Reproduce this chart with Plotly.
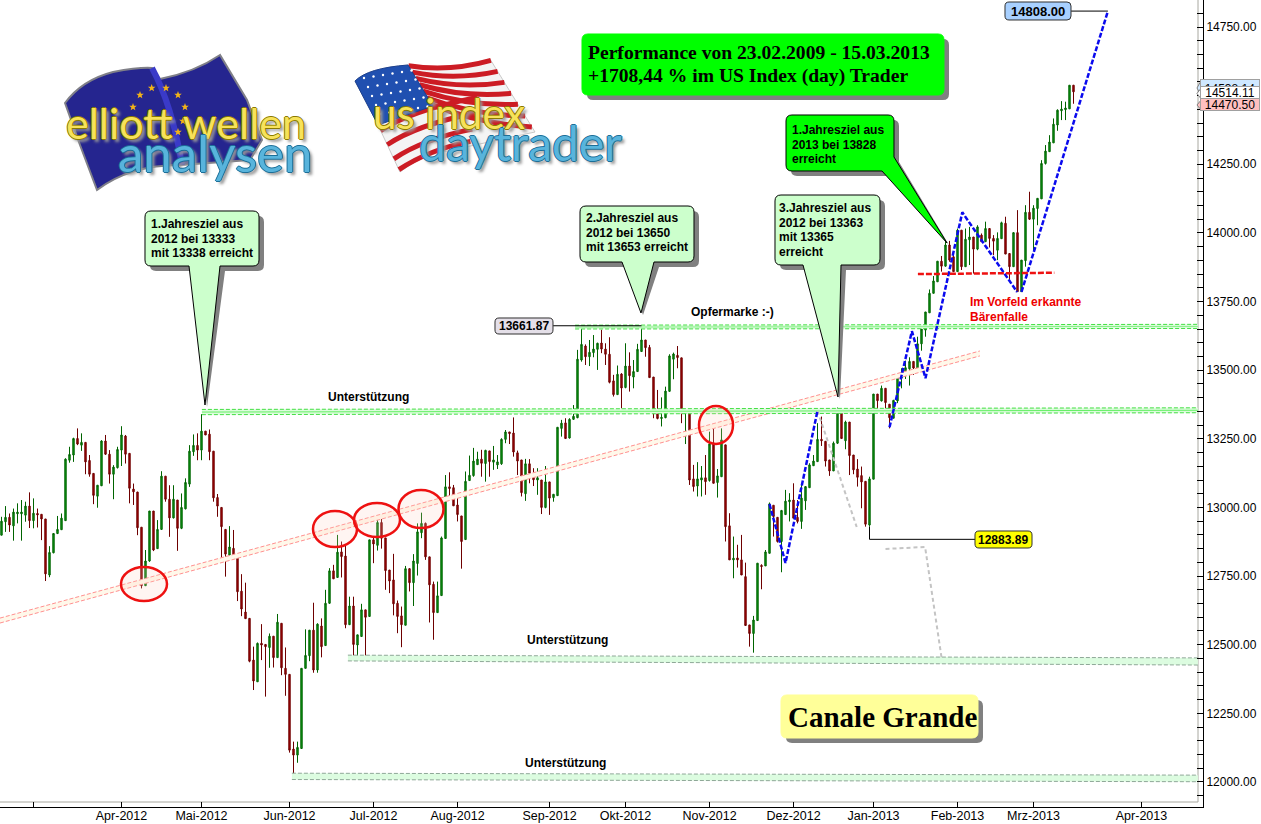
import math
import plotly.graph_objects as go

opens = [12899,12948,12964,12933,12977,12977,12972,13005,12952,12978,
12975,12958,12754,12835,12905,12919,12952,13172,13191,13251,
13227,13237,13171,13124,13041,13079,13242,13194,13121,13145,
13209,13260,13197,13067,13056,12928,12715,12805,12987,12850,
12920,13114,13030,12962,13027,12924,12995,13085,13203,13226,
13209,13278,13267,13205,13036,13000,12920,12826,12851,12818,
12695,12619,12596,12444,12365,12505,12501,12490,12531,12453,
12578,12414,12392,12120,12098,12122,12414,12460,12553,12408,
12568,12497,12651,12769,12745,12838,12823,12573,12641,12499,
12530,12627,12603,12882,12862,12945,12889,12772,12736,12651,
12605,12571,12777,12726,12796,12908,12942,12820,12720,12617,
12679,12887,13075,13072,13009,12969,12883,13098,13116,13156,
13176,13160,13206,13165,13155,13159,13248,13275,13271,13199,
13173,13050,13159,13122,13100,13100,13000,13093,13036,13043,
13288,13308,13253,13321,13327,13537,13588,13549,13564,13576,
13599,13577,13558,13461,13411,13486,13437,13515,13475,13495,
13568,13610,13583,13475,13348,13324,13327,13423,13540,13554,
13545,13342,13343,13104,13078,13100,13108,13098,13234,13091,
13112,13228,12933,12809,12816,12809,12748,12572,12541,12588,
12789,12787,12833,13008,12964,12876,12974,13021,13027,12964,
12949,13024,13072,13152,13167,13248,13241,13173,13133,13234,
13353,13243,13311,13191,13140,13116,13095,12936,13103,13413,
13388,13434,13376,13325,13388,13471,13486,13505,13532,13508,
13596,13646,13709,13780,13822,13897,13879,13956,13913,13859,
14010,13877,13975,13985,13941,13992,13968,14016,13980,13937,
13979,14035,13925,13877,14001,13786,13899,14075,14050,14089,
14124,14253,14296,14328,14393,14445,14449,14452,14538]

highs = [12966,13005,12978,12996,13015,13027,13021,13055,13033,12996,
12975,12958,12859,12905,12969,12978,13179,13221,13254,13288,
13270,13237,13191,13124,13081,13245,13264,13209,13154,13221,
13296,13264,13197,13087,13057,12928,12845,12987,12987,12954,
13132,13114,13081,13081,13027,13051,13106,13227,13266,13270,
13340,13278,13284,13205,13049,13000,12920,12932,12918,12818,
12757,12726,12596,12493,12508,12575,12501,12541,12531,12612,
12578,12490,12392,12147,12147,12414,12556,12553,12653,12578,
12596,12700,12779,12791,12900,12876,12860,12675,12675,12536,
12649,12627,12882,12894,12964,12961,12889,12772,12831,12661,
12639,12787,12779,12830,12942,12981,12945,12820,12730,12730,
12894,13118,13128,13082,13040,12969,13131,13189,13217,13203,
13210,13210,13206,13224,13191,13252,13282,13275,13328,13207,
13173,13177,13176,13143,13143,13100,13151,13093,13048,13292,
13319,13325,13325,13373,13574,13650,13594,13610,13628,13600,
13647,13598,13620,13483,13517,13489,13598,13565,13537,13596,
13662,13610,13592,13475,13428,13401,13440,13558,13564,13588,
13545,13347,13343,13155,13165,13151,13191,13276,13288,13140,
13288,13228,12979,12894,12864,12900,12799,12572,12605,12797,
12793,12845,13018,13008,12964,12991,13064,13052,13088,13027,
13088,13076,13161,13191,13307,13331,13241,13173,13240,13364,
13355,13316,13311,13191,13176,13149,13095,13112,13413,13413,
13444,13434,13376,13392,13479,13507,13535,13547,13532,13622,
13650,13712,13794,13843,13897,13916,13971,13971,13931,14016,
14010,14016,14022,13985,14028,13998,14041,14016,13992,14002,
14041,14059,13925,14003,14083,13901,14101,14150,14101,14126,
14265,14320,14356,14417,14450,14480,14478,14538,14539]

lows = [12899,12911,12911,12879,12942,12879,12948,12925,12924,12927,
12881,12732,12746,12833,12903,12918,12952,13163,13166,13227,
13206,13121,13112,13012,12999,13078,13191,13087,13030,13142,
13151,13160,13015,13009,12899,12705,12715,12802,12841,12850,
12918,13021,12893,12960,12842,12921,12993,13075,13188,13172,
13172,13264,13172,13021,12966,12808,12748,12814,12814,12659,
12604,12595,12436,12335,12365,12444,12311,12416,12417,12453,
12389,12314,12107,12031,12070,12122,12414,12440,12398,12398,
12454,12497,12649,12740,12745,12745,12560,12572,12457,12451,
12530,12451,12603,12797,12843,12850,12700,12688,12607,12542,
12491,12571,12694,12641,12752,12888,12809,12581,12518,12617,
12679,12887,13027,13006,12949,12777,12883,13098,13112,13156,
13112,13094,13112,13137,13140,13155,13234,13231,13185,13118,
13040,13024,13088,13078,13046,12976,12997,12973,13021,13043,
13258,13251,13251,13319,13325,13531,13519,13515,13547,13501,
13562,13519,13452,13404,13410,13361,13434,13422,13434,13495,
13568,13549,13473,13325,13321,13295,13325,13421,13467,13507,
13307,13231,13082,13058,13040,13040,13046,13094,13088,13036,
13112,12876,12809,12742,12781,12754,12570,12493,12471,12588,
12702,12787,12833,12894,12872,12764,12974,12949,12961,12942,
12922,12991,13072,13152,13167,13224,13149,13115,13133,13231,
13251,13212,13118,13121,13076,12997,12930,12930,13103,13355,
13386,13343,13288,13325,13380,13434,13468,13444,13483,13507,
13571,13622,13709,13780,13822,13859,13877,13895,13859,13859,
13865,13877,13883,13852,13937,13968,13968,13947,13919,13901,
13979,13923,13828,13877,13786,13786,13877,14047,13937,14028,
14124,14249,14296,14328,14372,14411,14411,14452,14470.5]

closes = [12950,12964,12936,12983,12983,12983,13005,12952,12979,12973,
12958,12758,12836,12905,12920,12961,13176,13193,13251,13231,
13237,13166,13121,13044,13081,13242,13194,13121,13147,13211,
13264,13194,13070,13057,12926,12715,12805,12987,12845,12920,
13114,13030,12962,13030,12924,13000,13091,13205,13226,13209,
13278,13264,13203,13035,13005,12930,12830,12856,12818,12693,
12630,12595,12440,12368,12505,12499,12493,12531,12453,12582,
12416,12392,12116,12098,12126,12414,12461,12553,12408,12575,
12493,12651,12769,12740,12837,12821,12573,12641,12501,12536,
12627,12600,12882,12867,12945,12888,12770,12732,12649,12603,
12573,12777,12726,12805,12911,12942,12820,12718,12617,12678,
12889,13075,13069,13006,12974,12876,13095,13117,13169,13176,
13161,13208,13167,13173,13166,13248,13275,13269,13202,13169,
13054,13159,13125,13101,13108,13000,13093,13034,13048,13292,
13307,13251,13321,13332,13540,13594,13549,13565,13577,13598,
13577,13558,13456,13411,13485,13435,13515,13480,13495,13576,
13610,13582,13473,13343,13324,13328,13424,13552,13559,13546,
13343,13347,13100,13076,13104,13108,13094,13231,13088,13115,
13246,12930,12809,12815,12809,12754,12570,12541,12590,12797,
12785,12838,13013,12967,12876,12989,13023,13027,12961,12949,
13034,13076,13155,13169,13248,13243,13169,13133,13234,13353,
13251,13311,13189,13137,13110,13093,12939,13104,13413,13389,
13434,13382,13327,13390,13474,13489,13509,13532,13508,13596,
13650,13712,13780,13825,13897,13879,13956,13901,13859,14010,
13877,13977,13985,13941,14022,13968,14016,13980,13970,13980,
14037,13923,13877,14001,13786,13901,14075,14050,14090,14126,
14253,14298,14331,14396,14447,14451,14455,14538,14514]

# month ticks: bar number where each month starts, and its label
month_bars = [8, 30, 50, 72, 93, 114, 137, 156, 177, 198, 218, 239, 258, 285]
month_labels = ["", "Apr-2012", "Mai-2012", "Jun-2012", "Jul-2012", "Aug-2012", "Sep-2012",
                "Okt-2012", "Nov-2012", "Dez-2012", "Jan-2013", "Feb-2013", "Mrz-2013", "Apr-2013"]

# drawn levels: (bar, price) pairs
support_mid_bars = [50.1, 299.1]
support_mid_top = [13357, 13363]
support_mid_low = [13338, 13345]
opfer_bars = [143.4, 299.1]
opfer_top = [13664, 13667]
opfer_low = [13650, 13652]
support_low_bars = [86.6, 299.1]
support_low_top = [12462, 12452]
support_low_low = [12441, 12426]
support_base_bars = [72.6, 299.1]
support_base_top = [12032, 12025]
support_base_low = [12009, 12001]
trend_bars = [-0.375, 244.6]
trend_top = [12597, 13570]
trend_low = [12579, 13552]
wave1_bars = [192, 196, 204]
wave1_prices = [13012, 12798, 13352]
wave2_bars = [222, 227.6, 231, 240.2, 253.9]
wave2_prices = [13292, 13642, 13471, 14075, 13785]
wave3_bars = [255, 276.6]
wave3_prices = [13785, 14808]
ghost1_bars = [204, 213.8]
ghost1_prices = [13352, 12929]
ghost2_bars = [221, 230.9, 235.1]
ghost2_prices = [12849, 12856, 12444]
bear_bars = [229.1, 263.2]
bear_prices = [13850, 13855]
high_bars = [137.9, 160]
high_prices = [13661.87, 13661.87]
low_bars = [217, 217, 243.4]
low_prices = [12930, 12883.89, 12883.89]
target_bars = [267.4, 276.6]
target_prices = [14808, 14808]

PW, PH = 1203.0, 807.0
def X(px): return px / PW
def Y(py): return 1 - py / PH
def P(px, py): return f"{X(px):.5f},{Y(py):.5f}"

SANS = "Liberation Sans, Arial, sans-serif"
SERIF = "Liberation Serif, Times New Roman, serif"

fig = go.Figure()

def band(bars, top, low, fill, edge, centre=None):
    fig.add_trace(go.Scatter(x=bars + bars[::-1], y=top + low[::-1], mode="lines", fill="toself",
                             fillcolor=fill, line=dict(width=0), hoverinfo="skip"))
    for ys in (top, low):
        fig.add_trace(go.Scatter(x=bars, y=ys, mode="lines", hoverinfo="skip",
                                 line=dict(color=edge, width=1, dash="4px,2px")))
    if centre:
        fig.add_trace(go.Scatter(x=bars, y=[(a + b) / 2 for a, b in zip(top, low)], mode="lines",
                                 hoverinfo="skip", line=dict(color=centre, width=1)))

band(trend_bars, trend_top, trend_low, "#fff8ea", "#ff9090")
band(support_mid_bars, support_mid_top, support_mid_low, "#dcfcdc", "#44e044", "#66f066")
band(opfer_bars, opfer_top, opfer_low, "#dcfcdc", "#44e044", "#88f088")
band(support_low_bars, support_low_top, support_low_low, "#dcfce0", "#8fa898")
band(support_base_bars, support_base_top, support_base_low, "#dcfce0", "#8fa898")

fig.add_trace(go.Candlestick(x=list(range(len(opens))), open=opens, high=highs, low=lows, close=closes,
                             increasing=dict(line=dict(color="#006400", width=1), fillcolor="#0a9a14"),
                             decreasing=dict(line=dict(color="#6e0000", width=1), fillcolor="#a80000"),
                             whiskerwidth=0))

def line(bars, prices, color, width=1, dash=None):
    fig.add_trace(go.Scatter(x=bars, y=prices, mode="lines", hoverinfo="skip",
                             line=dict(color=color, width=width, dash=dash)))

for b, p in ((ghost1_bars, ghost1_prices), (ghost2_bars, ghost2_prices)):
    line(b, p, "#c4c4c4", 2, "4px,3px")
for b, p in ((wave1_bars, wave1_prices), (wave2_bars, wave2_prices), (wave3_bars, wave3_prices)):
    line(b, p, "#0a0aee", 2.5, "5px,2px")
line(bear_bars, bear_prices, "#ee1111", 2.5, "6px,2px")
for b, p in ((high_bars, high_prices), (low_bars, low_prices), (target_bars, target_prices)):
    line(b, p, "#000000", 1)

shapes = []
annotations = []

def text(s, x, y, size=12, color="#000000", bold=True, family=SANS, anchor="center", shadow=None):
    f = dict(family=family, size=size, color=color)
    if shadow:
        f["shadow"] = shadow
    if anchor == "left":
        x -= 2
    annotations.append(dict(text=f"<b>{s}</b>" if bold else s, x=X(x), y=Y(y), xref="paper", yref="paper",
                            showarrow=False, xanchor=anchor, yanchor="middle", font=f))

def path(d, fill=None, stroke=None, width=1):
    shapes.append(dict(type="path", path=d, xref="paper", yref="paper", layer="above",
                       fillcolor=fill if fill else "rgba(0,0,0,0)",
                       line=dict(color=stroke if stroke else "rgba(0,0,0,0)", width=width if stroke else 0)))

def round_box(x0, y0, x1, y1, r=6, tail=None, right_tail=None):
    d = f"M{P(x0 + r, y0)} L{P(x1 - r, y0)} Q{P(x1, y0)} {P(x1, y0 + r)} "
    if right_tail:
        a, tip, b = right_tail
        d += f"L{P(x1, a)} L{P(*tip)} L{P(b, y1)} "
    else:
        d += f"L{P(x1, y1 - r)} Q{P(x1, y1)} {P(x1 - r, y1)} "
        if tail:
            a, tip, b = tail
            d += f"L{P(b, y1)} L{P(*tip)} L{P(a, y1)} "
    d += f"L{P(x0 + r, y1)} Q{P(x0, y1)} {P(x0, y1 - r)} L{P(x0, y0 + r)} Q{P(x0, y0)} {P(x0 + r, y0)} Z"
    return d

def callout(x0, y0, x1, y1, fill, lines, tail=None, right_tail=None, tx=None, ty=None, border="#000000"):
    sh_tail = (tail[0] + 5, (tail[1][0] + 2, tail[1][1] + 2), tail[2] + 5) if tail else None
    sh_right = (right_tail[0] + 5, (right_tail[1][0] + 2, right_tail[1][1] + 2), right_tail[2] + 5) if right_tail else None
    path(round_box(x0 + 5, y0 + 5, x1 + 5, y1 + 5, tail=sh_tail, right_tail=sh_right), fill="#808080")
    path(round_box(x0, y0, x1, y1, tail=tail, right_tail=right_tail), fill=fill, stroke=border)
    for k, s in enumerate(lines):
        text(s, tx, ty + k * 14.6, anchor="left")

# ---- logos ----
eu = ("M" + P(65, 103) + " Q" + P(82, 80) + " " + P(113, 72) + " Q" + P(140, 67) + " " + P(152, 68) +
      " L" + P(160, 79) + " Q" + P(195, 72) + " " + P(220, 55) + " L" + P(247, 100) + " L" + P(262, 140) +
      " L" + P(250, 160) + " L" + P(180, 165) + " Q" + P(130, 165) + " " + P(97, 190) + " L" + P(80, 145) + " Z")
path(eu, fill="#25258f", stroke="#808088", width=2)
path("M" + P(152, 68) + " Q" + P(172, 105) + " " + P(182, 165), stroke="#3a3ac8", width=6)
def star(cx, cy, r=4):
    pts = []
    for k in range(10):
        rr = r if k % 2 == 0 else r * 0.42
        a = math.radians(-90 + 36 * k)
        pts.append(P(cx + rr * math.cos(a), cy + rr * math.sin(a)))
    path("M" + " L".join(pts) + " Z", fill="#f2b318")
for c in ((151.7, 88), (166, 88), (140, 95), (178, 95), (185, 107), (133, 107), (178, 132), (183, 121)):
    star(*c)

usbase = ("M" + P(355, 81) + " Q" + P(368, 68) + " " + P(408, 65) + " Q" + P(450, 76) + " " + P(490, 59) +
          " L" + P(535, 132) + " L" + P(452, 150) + " Q" + P(420, 155) + " " + P(400, 172) + " L" + P(378, 125) + " Z")
path(usbase, fill="#f4f4f4", stroke="#c8c8c8")
for t in (0.02, 0.17, 0.32, 0.47, 0.62, 0.78, 0.93):
    ax, ay = 408 + 24 * t, 65 + 42 * t
    bx, by = 490 + 45 * t, 59 + 73 * t
    path("M" + P(ax, ay) + " Q" + P((ax + bx) / 2, (ay + by) / 2 + 9) + " " + P(bx, by), stroke="#cc1c24", width=5)
for s in (0.12, 0.42, 0.72, 0.95):
    ax, ay = 378 + 22 * s, 125 + 47 * s
    path("M" + P(ax, ay) + " Q" + P(ax + 30, ay - 20) + " " + P(ax + 100 - 30 * s, ay - 34 + 6 * s), stroke="#cc1c24", width=5)
path("M" + P(355, 81) + " Q" + P(368, 68) + " " + P(408, 65) + " L" + P(433, 106) + " L" + P(378, 125) + " Z", fill="#2050b0", stroke="#1a3f90")
for row in range(5):
    for col in range(6):
        cx = 364 + col * 9.5 + row * 4
        cy = 78 - col * 1.5 + row * 9
        if 358 < cx < 428 and cy < 118:
            shapes.append(dict(type="circle", xref="paper", yref="paper", layer="above",
                               x0=X(cx - 1.2), x1=X(cx + 1.2), y0=Y(cy + 1.2), y1=Y(cy - 1.2),
                               fillcolor="#ffffff", line=dict(width=0)))

YEL = "-1px 0 #8a7a00, 1px 0 #8a7a00, 0 1px #8a7a00, 0 -1px #8a7a00, 3px 3px 3px #999999"
BLU = "-1px 0 #1c6f98, 1px 0 #1c6f98, 0 1px #1c6f98, 0 -1px #1c6f98, 3px 3px 3px #999999"
text("elliott wellen", 186, 123, size=43, color="#f7e25a", bold=False, family="Lato, sans-serif", shadow=YEL)
text("analysen", 215, 152, size=51, color="#58b4dc", bold=False, family="Lato, sans-serif", shadow=BLU)
text("us index", 449, 113, size=42, color="#f7e25a", bold=False, family="Lato, sans-serif", shadow=YEL)
text("daytrader", 520, 143, size=48, color="#58b4dc", bold=False, family="Lato, sans-serif", shadow=BLU)

# ---- ellipses ----
for cx, cy, rx, ry in ((144, 584, 23, 17), (335, 529, 22, 18), (377, 520, 23, 17), (421, 509, 22.5, 19), (716, 425, 17, 19)):
    shapes.append(dict(type="circle", xref="paper", yref="paper", layer="above",
                       x0=X(cx - rx), x1=X(cx + rx), y0=Y(cy + ry), y1=Y(cy - ry),
                       fillcolor="rgba(255,205,190,0.2)", line=dict(color="#ee1111", width=2.5)))

# ---- callouts ----
callout(582, 34, 944, 95, "#00ff00", [], border="#00ff00")
text("Performance von 23.02.2009 - 15.03.2013", 588, 52, size=19.6, family=SERIF, anchor="left")
text("+1708,44 % im US Index (day) Trader", 588, 76, size=19.6, family=SERIF, anchor="left")
callout(145, 211, 259, 266, "#ccffcc", ["1.Jahresziel aus", "2012 bei 13333", "mit 13338 erreicht"],
        tail=(189, (205, 405), 220), tx=151, ty=224)
callout(580, 206, 694, 262, "#ccffcc", ["2.Jahresziel aus", "2012 bei 13650", "mit 13653 erreicht"],
        tail=(622, (641, 313), 654), tx=586, ty=218)
callout(775, 195, 880, 265, "#ccffcc", ["3.Jahresziel aus", "2012 bei 13363", "mit 13365", "erreicht"],
        tail=(803, (838, 397), 841), tx=779, ty=208)
callout(786, 115, 894, 171, "#00ff00", ["1.Jahresziel aus", "2013 bei 13828", "erreicht"],
        right_tail=(157, (947, 243), 882), tx=792, ty=130)
callout(781, 695, 978, 738, "#ffff99", [], border="#ffff99")
text("Canale Grande", 882, 717, size=29, family=SERIF)

# ---- labels ----
for x0, y0, x1, y1, fill, s, size in ((495, 318, 553, 334, "#e4dfe8", "13661.87", 12),
                                      (975, 531, 1032, 548, "#ffff00", "12883.89", 12),
                                      (1005, 2, 1071, 20, "#a8d0ff", "14808.00", 13)):
    path(round_box(x0, y0, x1, y1, r=4), fill=fill, stroke="#303030")
    text(s, (x0 + x1) / 2, (y0 + y1) / 2, size=size)

text("Unterstützung", 368, 397)
text("Unterstützung", 567, 640)
text("Unterstützung", 565, 763)
text("Opfermarke :-)", 732, 312)
text("Im Vorfeld erkannte", 970, 302, color="#ee0000", anchor="left")
text("Bärenfalle", 970, 317, color="#ee0000", anchor="left")

# ---- price tags on the right ----
for x0, y0, x1, y1, fill, s in ((1199, 79, 1260, 97, "#cfe8ff", "14538.14"),
                                (1199, 87, 1260, 100, "#ffffff", "14514.11"),
                                (1199, 99, 1260, 111, "#ffc0c0", "14470.50")):
    path("M" + P(x0 + 3, y0) + " L" + P(x0 - 2, (y0 + y1) / 2) + " L" + P(x0 + 3, y1) + " Z", fill=fill, stroke="#808080")
    annotations.append(dict(text=s, x=X((x0 + x1) / 2), y=Y((y0 + y1) / 2), xref="paper", yref="paper", showarrow=False,
                            xanchor="center", yanchor="middle", width=x1 - x0 - 3, height=y1 - y0 - 1, bgcolor=fill,
                            bordercolor="#a0a0a0", borderwidth=1, borderpad=0,
                            font=dict(family=SANS, size=12, color="#000000")))

# ---- plot frame ----
shapes.append(dict(type="line", xref="paper", yref="paper", layer="below", x0=X(1198), x1=X(1198), y0=Y(0), y1=Y(802),
                   line=dict(color="#a8a8a0", width=1)))
shapes.append(dict(type="line", xref="paper", yref="paper", layer="below", x0=0, x1=X(1198), y0=Y(802), y1=Y(802),
                   line=dict(color="#a8a8a0", width=1)))

fig.update_layout(
    width=1261, height=824, margin=dict(l=0, r=58, t=0, b=17, pad=0),
    paper_bgcolor="#ffffff", plot_bgcolor="#ffffff", showlegend=False, boxgap=0.5,
    shapes=shapes, annotations=annotations,
    xaxis=dict(range=[-0.375, 300.375], tickmode="array", tickvals=month_bars, ticktext=month_labels,
               automargin=False, showgrid=False, zeroline=False, showline=True, linecolor="#000000", linewidth=1,
               ticks="inside", ticklen=5, tickcolor="#000000", rangeslider=dict(visible=False),
               ticklabelstandoff=-3,
               tickangle=0, tickfont=dict(family=SANS, size=12.5, color="#000000")),
    yaxis=dict(range=[11908.9, 14848.4], side="right", tick0=12000, dtick=250, tickformat=".2f",
               automargin=False, showgrid=False, zeroline=False, showline=True, linecolor="#000000", linewidth=1,
               ticks="inside", ticklen=6, tickcolor="#000000",
               minor=dict(dtick=50, tick0=12000, ticks="inside", ticklen=6, tickcolor="#000000", showgrid=False),
               tickfont=dict(family=SANS, size=12, color="#000000")),
)

fig.write_html("out.html", config={"displayModeBar": False}, post_script="document.body.style.margin='0';")
